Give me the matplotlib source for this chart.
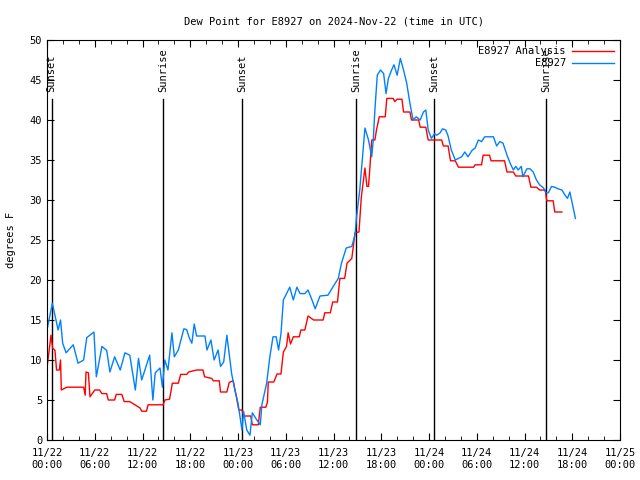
import matplotlib
matplotlib.use("Agg")
import matplotlib.pyplot as plt

# hours since 2024-11-22 00:00 UTC
obs_hours = [0.0, 0.67, 1.4, 1.7, 1.97, 2.4, 3.3, 3.9, 4.6, 5.0, 5.9, 6.2, 6.9, 7.5, 7.9,
             8.5, 9.2, 9.8, 10.4, 11.1, 11.5, 11.9, 12.9, 13.3, 13.6, 14.2, 14.5, 14.8,
             15.2, 15.7, 16.0, 16.5, 17.2, 17.55, 17.9, 18.2, 18.5, 18.8, 19.85, 20.1,
             20.6, 21.0, 21.5, 21.8, 22.2, 22.6, 23.2, 23.6, 24.0, 24.5, 24.7, 25.1, 25.5,
             25.8, 26.3, 26.8, 27.0, 27.6, 28.0, 28.4, 28.8, 29.1, 29.4, 29.7, 30.0, 30.5,
             30.95, 31.4, 31.8, 32.4, 32.8, 33.3, 33.7, 34.3, 35.3, 36.0, 36.6, 37.0, 37.6,
             38.3, 38.7, 38.9, 39.3, 39.7, 39.95, 40.4, 40.8, 41.0, 41.2, 41.5, 41.9, 42.3,
             42.6, 42.9, 43.3, 43.6, 44.0, 44.4, 44.8, 45.2, 45.6, 46.0, 46.4, 46.9, 47.3,
             47.6, 47.9, 48.3, 48.7, 48.96, 49.4, 49.7, 50.1, 50.4, 50.8, 51.3, 51.7, 52.1,
             52.5, 52.9, 53.4, 53.8, 54.2, 54.6, 55.0, 56.1, 56.5, 56.9, 57.3, 57.8, 58.2,
             58.6, 58.9, 59.2, 59.6, 59.8, 60.3, 60.7, 61.1, 61.5, 61.9, 62.4, 62.7, 63.0,
             63.4, 63.8, 64.2, 64.7, 65.1, 65.4, 65.7, 66.0, 66.4]
obs_dewpt = [13.75, 17.1, 13.75, 15.0, 12.1, 10.9, 11.9, 9.6, 10.0, 12.8, 13.5, 7.9, 11.7, 11.2, 8.5,
             10.4, 8.75, 10.9, 10.6, 6.25, 10.2, 7.5, 10.6, 5.0, 8.4, 9.0, 6.6, 10.0,
             8.75, 13.4, 10.4, 11.25, 13.9, 13.8, 12.7, 12.1, 14.5, 13.0, 13.0, 11.25,
             12.5, 10.0, 11.25, 9.2, 9.75, 13.1, 8.3, 6.25, 4.6, 1.25, 3.6, 1.25, 0.6,
             3.4, 2.6, 1.9, 4.4, 7.1, 10.4, 12.9, 12.9, 11.25, 13.3, 17.5, 18.1, 19.1,
             17.5, 19.1, 18.3, 18.3, 18.75, 17.5, 16.4, 18.0, 18.1, 19.25, 20.2, 22.1, 24.0,
             24.2, 25.6, 27.9, 31.25, 36.0, 39.0, 37.5, 35.4, 37.5, 41.25, 45.6, 46.25, 45.8,
             43.3, 45.2, 46.25, 46.9, 45.6, 47.7, 46.25, 44.6, 42.1, 40.0, 40.4, 40.0, 41.0,
             41.25, 38.75, 37.7, 38.3, 38.1, 38.4, 38.9, 38.75, 38.0, 36.25, 35.0, 35.2, 35.4,
             36.0, 35.4, 36.2, 36.5, 37.5, 37.3, 37.9, 37.9, 36.75, 37.3, 37.1, 35.6, 34.6,
             33.75, 34.2, 33.75, 34.2, 32.9, 33.9, 33.9, 33.5, 32.5, 31.9, 31.5, 30.9, 30.9,
             31.7, 31.6, 31.4, 31.25, 30.6, 30.2, 31.0, 29.6, 27.7]

ana_hours = [0.0, 0.5, 0.7, 1.0, 1.2, 1.55, 1.7, 1.8, 2.5, 4.6, 4.8, 4.9, 5.2, 5.4, 6.0, 6.6,
             6.9, 7.5, 7.7, 8.5, 8.7, 9.4, 9.7, 10.4, 11.7, 11.9, 12.5, 12.7, 14.6, 14.8,
             15.4, 15.75, 16.5, 16.8, 17.55, 17.8, 18.8, 19.6, 19.8, 20.7, 20.9, 21.65,
             21.8, 22.6, 22.9, 23.4, 23.8, 24.1, 24.5, 24.75, 25.6, 25.8, 26.55, 26.8, 27.5,
             27.7, 27.8, 28.5, 28.9, 29.4, 29.7, 30.1, 30.3, 30.6, 30.95, 31.7, 31.9, 32.4,
             32.8, 33.5, 34.7, 34.9, 35.6, 35.9, 36.5, 36.8, 37.4, 37.7, 38.3, 38.7, 39.2,
             39.5, 39.95, 40.2, 40.4, 40.6, 40.8, 41.2, 41.4, 41.75, 42.5, 42.7, 43.5, 43.7,
             44.0, 44.6, 44.8, 45.6, 45.8, 46.7, 46.9, 47.6, 47.9, 49.6, 49.8, 50.4, 50.7,
             51.3, 51.7, 53.6, 53.8, 54.6, 54.8, 55.6, 55.8, 57.5, 57.8, 58.6, 58.9, 60.5,
             60.8, 61.5, 61.9, 62.6, 62.8, 63.6, 63.8, 64.7]
ana_dewpt = [9.0, 13.1, 11.5, 11.2, 8.75, 8.75, 10.0, 6.25, 6.6, 6.6, 5.6, 8.5, 8.4, 5.4, 6.25, 6.25,
             5.8, 5.8, 5.0, 5.0, 5.7, 5.7, 4.8, 4.8, 4.0, 3.6, 3.6, 4.4, 4.4, 5.0,
             5.1, 7.1, 7.1, 8.2, 8.2, 8.5, 8.75, 8.75, 7.9, 7.7, 7.4, 7.4,
             6.0, 6.0, 7.2, 7.4, 5.4, 3.75, 3.75, 3.0, 3.0, 1.9, 1.9, 4.1, 4.1,
             4.75, 7.25, 7.25, 8.25, 8.25, 11.0, 11.7, 13.4, 12.0, 12.9, 12.9, 13.75, 13.75,
             15.5, 15.0, 15.0, 15.9, 15.9, 17.25, 17.25, 20.2, 20.2, 22.1, 22.7, 25.9, 26.0,
             30.4, 34.0, 31.7, 31.7, 34.4, 37.5, 37.5, 38.75, 40.4, 40.4, 42.7, 42.7, 42.3,
             42.6, 42.6, 41.0, 41.0, 40.0, 40.0, 39.1, 39.1, 37.5, 37.5, 36.75, 36.75, 34.9,
             34.9, 34.1, 34.1, 34.4, 34.4, 35.6, 35.6, 34.9, 34.9, 33.5, 33.5, 33.0, 33.0,
             31.6, 31.6, 31.25, 31.25, 29.9, 29.9, 28.5, 28.5]

sun_hours = [0.59, 14.6, 24.55, 38.8, 48.66, 62.7]
sun_labels = ["Sunset", "Sunrise", "Sunset", "Sunrise", "Sunset", "Sunrise"]

tick_hours = list(range(0, 73, 6))
tick_labels = ["11/22\n00:00", "11/22\n06:00", "11/22\n12:00", "11/22\n18:00",
               "11/23\n00:00", "11/23\n06:00", "11/23\n12:00", "11/23\n18:00",
               "11/24\n00:00", "11/24\n06:00", "11/24\n12:00", "11/24\n18:00",
               "11/25\n00:00"]

plt.rcParams['font.family'] = 'DejaVu Sans Mono'
plt.rcParams['font.size'] = 7.5

fig = plt.figure(figsize=(6.4, 4.8), dpi=100)
ax = fig.add_axes([47 / 640, 40 / 480, 573 / 640, 400 / 480])

for h, lab in zip(sun_hours, sun_labels):
    ax.plot([h, h], [0, 42.6], color='black', linewidth=1)
    ax.text(h, 43.5, lab, rotation=90, ha='center', va='bottom')

ax.plot(ana_hours, ana_dewpt, color='#ff0000', linewidth=1, label='E8927 Analysis')
ax.plot(obs_hours, obs_dewpt, color='#0080ff', linewidth=1, label='E8927')

ax.set_xlim(0, 72)
ax.set_ylim(0, 50)
ax.set_xticks(tick_hours)
ax.set_xticklabels(tick_labels)
ax.set_xticks(range(0, 73, 2), minor=True)
ax.set_yticks(range(0, 51, 5))
ax.tick_params(which='both', direction='in', top=True, right=True, length=5)
ax.tick_params(which='minor', length=3)
ax.tick_params(axis='x', pad=6)

ax.set_title('Dew Point for E8927 on 2024-Nov-22 (time in UTC)', fontsize=7.5, pad=11)
ax.set_ylabel('degrees F', labelpad=10)

ax.legend(loc='upper right', frameon=False, markerfirst=False, handlelength=4,
          borderaxespad=0.2, labelspacing=0.2, handletextpad=0.6)

fig.savefig('out.png', dpi=100)
